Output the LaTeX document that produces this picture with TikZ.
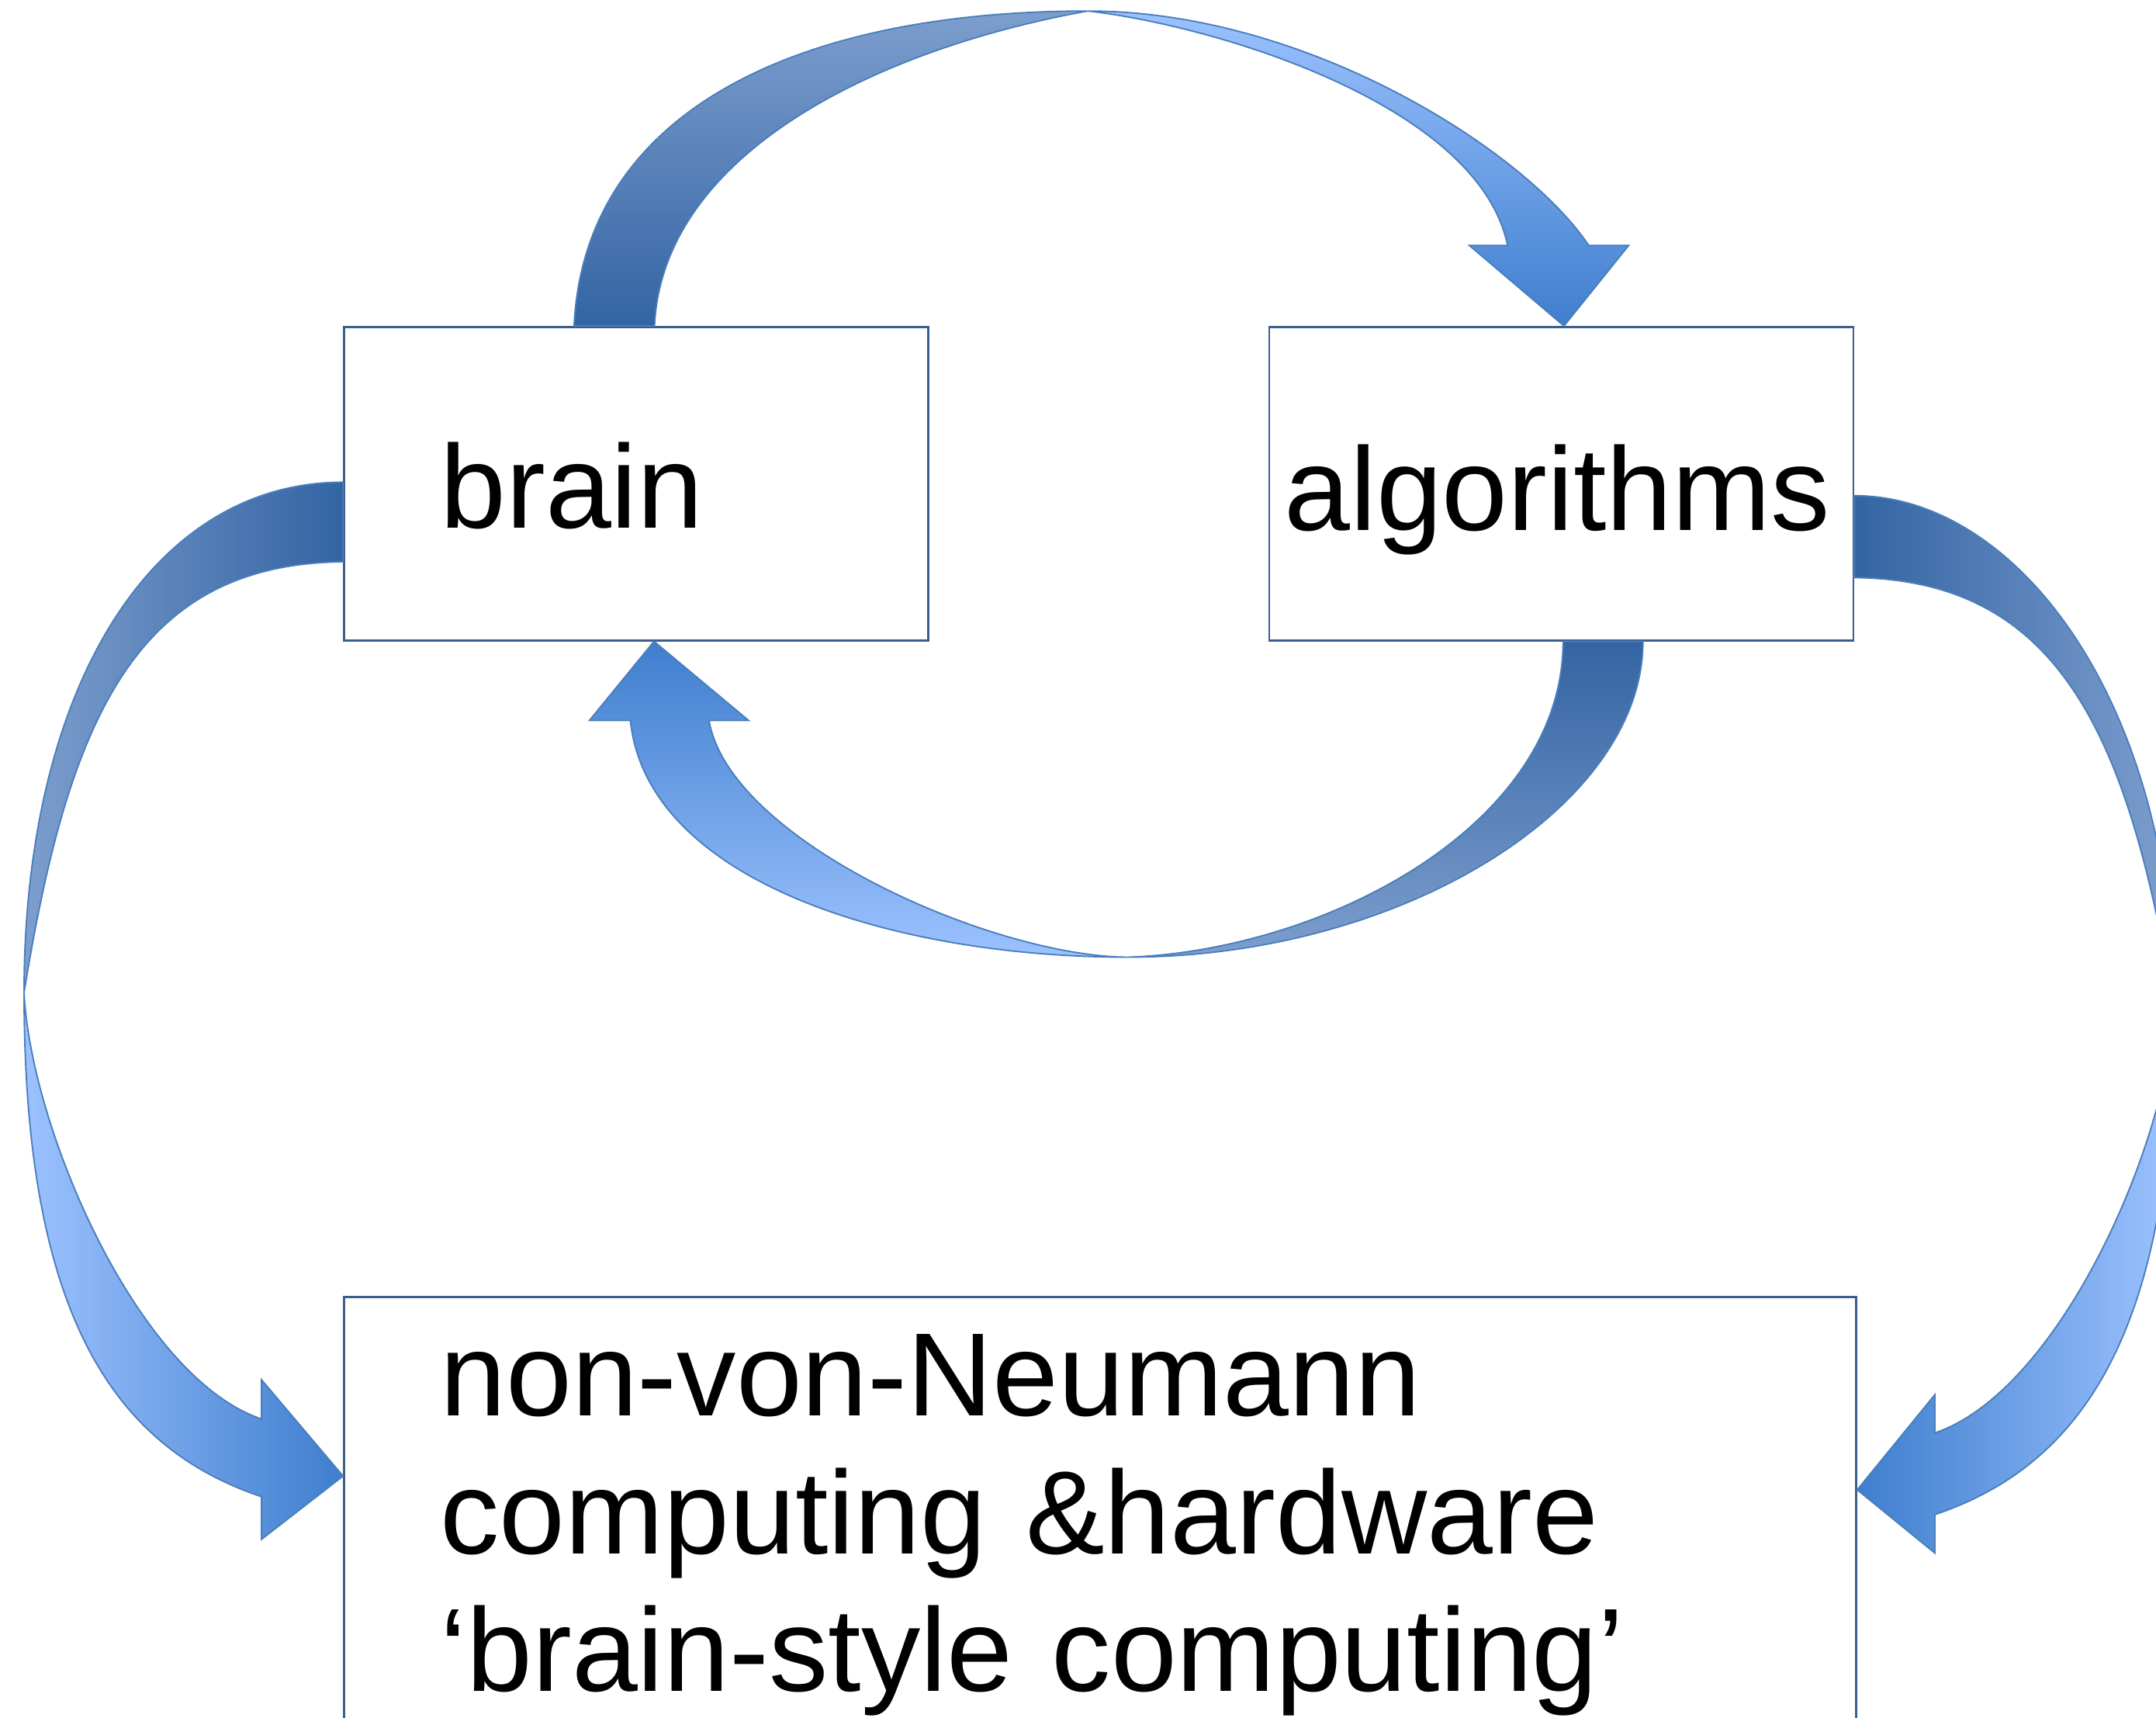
\documentclass[tikz,border=0pt]{standalone}
\usepackage{fontspec}
\setmainfont{Liberation Sans}
\usetikzlibrary{positioning,calc}

\definecolor{darkband}{HTML}{3364A3}
\definecolor{greyband}{HTML}{7D9ECE}
\definecolor{lightband}{HTML}{9CC2FF}
\definecolor{headband}{HTML}{3F7ECE}
\definecolor{bandline}{HTML}{4A7EBB}
\definecolor{boxline}{HTML}{3A5F8F}

\begin{document}
\begin{tikzpicture}[
			x=0.02cm, y=-0.02cm,
			box/.style = {draw=boxline, line width=0.8pt, fill=white, inner ysep=0pt,
				align=left, font=\fontsize{49}{57}\selectfont},
			band/.style = {draw=bandline, line width=0.6pt}
		]
		\useasboundingbox (0,0) rectangle (1568,1249);
		\node[box, anchor=north west, inner xsep=1.4cm, text width=5.7cm,
			text height=2.92cm, text depth=1.64cm] (brain) at (249.5,237) {brain};
		\node[box, inner xsep=0.22cm, text width=8.06cm,
			text height=2.96cm, text depth=1.6cm] (algo) [right=4.93cm of brain] {algorithms};
		\node[box, inner xsep=1.4cm, text width=19.2cm,
			text height=1.73cm, text depth=8cm] (hw) [below right=9.52cm and 0cm of brain.south west]
			{non-von-Neumann\\computing \&hardware\\‘brain-style computing’};

		% brain -> algorithms, over the top
		\coordinate (bo) at ($(brain.north west)+(168,0)$);
		\coordinate (bi) at ($(brain.north west)+(226.5,0)$);
		\coordinate (bt) at ($(brain.north east)!0.5!(algo.north west)+(-8,-229)$);
		\coordinate (at) at ($(algo.north)+(2,0)$);
		\path[band, top color=greyband, bottom color=darkband]
			(bo) .. controls +(7.5,-157) and +(-210,0) .. (bt)
			.. controls +(-150,27) and +(6,-127) .. (bi) -- cycle;
		\path[band, top color=lightband, bottom color=headband]
			(bt) .. controls +(160,0) and +(-45.6,-68.5) .. ($(at)+(18,-58.5)$)
			-- ($(at)+(47,-58.5)$) -- (at) -- ($(at)+(-68.8,-58.5)$) -- ($(at)+(-41,-58.5)$)
			.. controls +(-21.4,-103.5) and +(90,10) .. (bt) -- cycle;

		% algorithms -> brain, underneath
		\coordinate (ao) at ($(algo.south west)+(272.6,0)$);
		\coordinate (ai) at ($(algo.south west)+(214.5,0)$);
		\coordinate (lb) at ($(brain.south east)!0.5!(algo.south west)+(21,229.6)$);
		\coordinate (bh) at ($(brain.south)+(13,0)$);
		\path[band, top color=darkband, bottom color=greyband]
			(ao) .. controls +(0,120) and +(200,0) .. (lb)
			.. controls +(141.3,-4.6) and +(0,135) .. (ai) -- cycle;
		\path[band, bottom color=lightband, top color=headband]
			(lb) .. controls +(-168.7,0) and +(12.2,117.5) .. ($(bh)+(-17.2,57.5)$)
			-- ($(bh)+(-47,57.5)$) -- (bh) -- ($(bh)+(68.8,57.5)$) -- ($(bh)+(40,57.5)$)
			.. controls +(15,87.5) and +(-98.7,-0.6) .. (lb) -- cycle;

		% brain -> hardware, left side
		\coordinate (lo) at ($(brain.north west)+(0,113.6)$);
		\coordinate (li) at ($(brain.north west)+(0,171.5)$);
		\coordinate (ll) at ($(brain.north west)!0.5!(hw.north west)+(-232,132)$);
		\coordinate (lh) at ($(hw.north west)+(0,131)$);
		\path[band, right color=darkband, left color=greyband]
			(lo) .. controls +(-140,0) and +(0,-220) .. (ll)
			.. controls +(32.7,-201.4) and +(-149.5,1.5) .. (li) -- cycle;
		\path[band, left color=lightband, right color=headband]
			(ll) .. controls +(0,230) and +(-110.2,-37) .. ($(lh)+(-59.3,15)$)
			-- ($(lh)+(-59.3,46)$) -- (lh) -- ($(lh)+(-59.3,-70)$) -- ($(lh)+(-59.3,-41.5)$)
			.. controls +(-90.2,-30.3) and +(4.7,98.6) .. (ll) -- cycle;

		% algorithms -> hardware, right side
		\coordinate (ro) at ($(algo.north east)+(0,123.4)$);
		\coordinate (ri) at ($(algo.north east)+(0,183)$);
		\coordinate (rr) at ($(algo.north east)!0.5!(hw.north east)+(231.5,144)$);
		\coordinate (rh) at ($(hw.north east)+(0,141)$);
		\path[band, left color=darkband, right color=greyband]
			(ro) .. controls +(120,0) and +(0,-220) .. (rr)
			.. controls +(-33,-201) and +(148,1.5) .. (ri) -- cycle;
		\path[band, right color=lightband, left color=headband]
			(rr) .. controls +(0,230) and +(110,-37) .. ($(rh)+(56.5,18)$)
			-- ($(rh)+(56.5,46)$) -- (rh) -- ($(rh)+(56.5,-69.2)$) -- ($(rh)+(56.5,-41.4)$)
			.. controls +(90.2,-30.3) and +(-4.7,98.6) .. (rr) -- cycle;
	\end{tikzpicture}
\end{document}
